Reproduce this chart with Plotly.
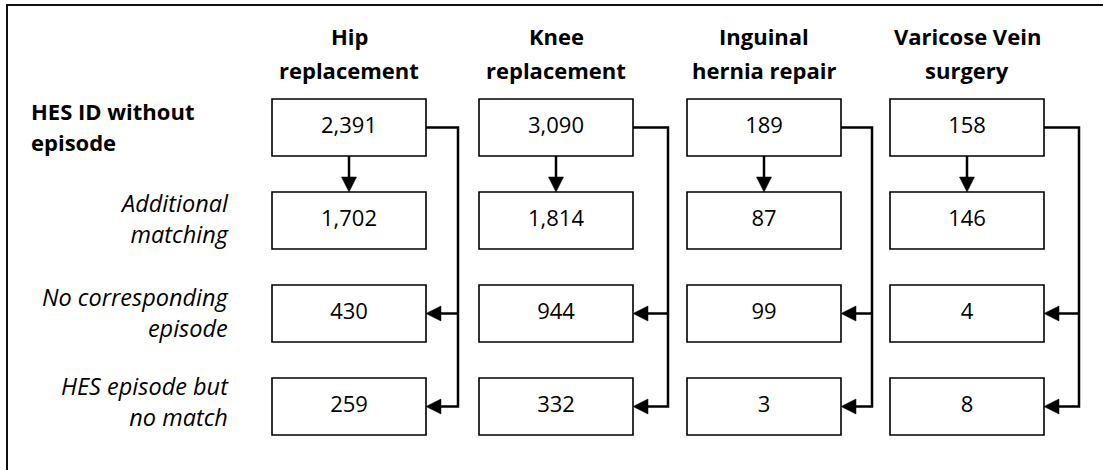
import plotly.graph_objects as go

# ---------------- data ----------------
procedure_line1 = ["Hip", "Knee", "Inguinal", "Varicose Vein"]
procedure_line2 = ["replacement", "replacement", "hernia repair", "surgery"]
stage_labels = [
    ["HES ID without", "episode"],
    ["Additional", "matching"],
    ["No corresponding", "episode"],
    ["HES episode but", "no match"],
]
hes_id_without_episode = [2391, 3090, 189, 158]
additional_matching = [1702, 1814, 87, 146]
no_corresponding_episode = [430, 944, 99, 4]
hes_episode_no_match = [259, 332, 3, 8]
stage_values = [hes_id_without_episode, additional_matching,
                no_corresponding_episode, hes_episode_no_match]

# ---------------- layout constants ----------------
W, H = 1103, 470
FONT = "Open Sans"
COL_LEFTS = [272, 479, 687, 890]
CONN_OFFS = [32, 35, 31, 35]
BOX_W = 154
ROW_Y0, ROW_STEP, BOX_H = 99, 93, 57
LINE = "#000000"

def row_top(r):
    return ROW_Y0 + r * ROW_STEP

def row_mid(r):
    return row_top(r) + BOX_H / 2

shapes = []
annotations = []

# outer frame (top and left edges)
shapes.append(dict(type="line", x0=6, x1=W, y0=5, y1=5, xref="x", yref="y",
                   line=dict(color="#111111", width=2)))
shapes.append(dict(type="line", x0=7, x1=7, y0=5, y1=H, xref="x", yref="y",
                   line=dict(color="#111111", width=2)))

tx, ty, tt = [], [], []
for c in range(len(procedure_line1)):
    x0 = COL_LEFTS[c]
    cx = x0 + BOX_W / 2
    xr = x0 + BOX_W
    xc = xr + CONN_OFFS[c]
    # boxes and values
    for r in range(len(stage_values)):
        shapes.append(dict(type="rect", xref="x", yref="y", x0=x0, x1=xr,
                           y0=row_top(r), y1=row_top(r) + BOX_H,
                           line=dict(color=LINE, width=1.6), fillcolor="white",
                           layer="below"))
        tx.append(cx)
        ty.append(row_mid(r))
        tt.append(f"{stage_values[r][c]:,}")
    # down arrow from row 0 to row 1
    y_from = row_top(0) + BOX_H
    y_to = row_top(1)
    shapes.append(dict(type="line", xref="x", yref="y", x0=cx, x1=cx,
                       y0=y_from, y1=y_to - 14, line=dict(color=LINE, width=2.5)))
    shapes.append(dict(type="path", xref="x", yref="y",
                       path=f"M {cx-7.5} {y_to-15} L {cx+7.5} {y_to-15} L {cx} {y_to} Z",
                       fillcolor=LINE, line=dict(color=LINE, width=0.5)))
    # side connector
    y0m, y2m, y3m = row_mid(0), row_mid(2), row_mid(3)
    shapes.append(dict(type="path", xref="x", yref="y",
                       path=f"M {xr} {y0m} L {xc} {y0m} L {xc} {y3m} L {xr+14} {y3m}",
                       line=dict(color=LINE, width=2.5)))
    shapes.append(dict(type="line", xref="x", yref="y", x0=xc, x1=xr + 14,
                       y0=y2m, y1=y2m, line=dict(color=LINE, width=2.5)))
    for ym in (y2m, y3m):
        shapes.append(dict(type="path", xref="x", yref="y",
                           path=f"M {xr} {ym} L {xr+15} {ym-7.5} L {xr+15} {ym+7.5} Z",
                           fillcolor=LINE, line=dict(color=LINE, width=0.5)))
    # column headers
    annotations.append(dict(x=cx, y=36, xref="x", yref="y", text=f"<b>{procedure_line1[c]}</b>",
                            showarrow=False, xanchor="center", yanchor="middle",
                            font=dict(family=FONT, size=22, color="#000")))
    annotations.append(dict(x=cx, y=70, xref="x", yref="y", text=f"<b>{procedure_line2[c]}</b>",
                            showarrow=False, xanchor="center", yanchor="middle",
                            font=dict(family=FONT, size=22, color="#000")))

# row labels
annotations.append(dict(x=29, y=111, xref="x", yref="y", text="<b>" + stage_labels[0][0] + "</b>",
                        showarrow=False, xanchor="left", yanchor="middle",
                        font=dict(family=FONT, size=22, color="#000")))
annotations.append(dict(x=29, y=142, xref="x", yref="y", text="<b>" + stage_labels[0][1] + "</b>",
                        showarrow=False, xanchor="left", yanchor="middle",
                        font=dict(family=FONT, size=22, color="#000")))
label_centres = {1: 218.5, 2: 312, 3: 401}
for r, yy in label_centres.items():
    annotations.append(dict(x=231, y=yy, xref="x", yref="y",
                            text="<br>".join(f"<i>{t}</i>" for t in stage_labels[r]),
                            showarrow=False, xanchor="right", yanchor="middle", align="right",
                            font=dict(family=FONT, size=23.5, color="#000")))

fig = go.Figure()
fig.add_trace(go.Scatter(x=tx, y=ty, text=tt, mode="text",
                         textfont=dict(family=FONT, size=22, color="#000"),
                         hoverinfo="skip", showlegend=False))
fig.update_layout(
    width=W, height=H,
    margin=dict(l=0, r=0, t=0, b=0, pad=0),
    paper_bgcolor="white", plot_bgcolor="white",
    xaxis=dict(range=[0, W], visible=False, fixedrange=True),
    yaxis=dict(range=[H, 0], visible=False, fixedrange=True),
    shapes=shapes, annotations=annotations,
    showlegend=False,
)
fig.write_html("out.html", config={"displayModeBar": False},
               post_script="document.body.style.margin='0';document.body.style.overflow='hidden';")
